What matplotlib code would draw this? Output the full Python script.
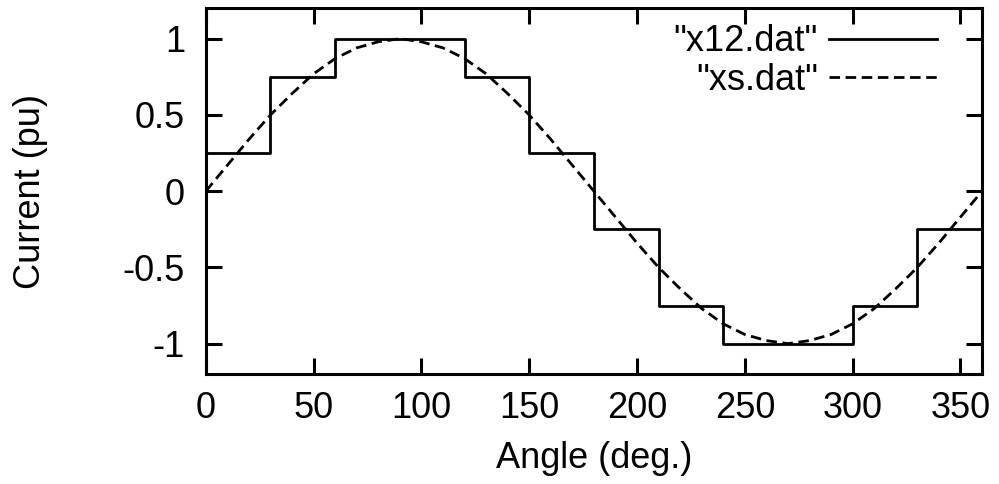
import numpy as np
import matplotlib
matplotlib.use("Agg")
import matplotlib.pyplot as plt

plt.rcParams['font.family'] = ['Liberation Sans', 'DejaVu Sans']

# step waveform "x12.dat"
step_x = [0, 30, 60, 90, 120, 150, 180, 210, 240, 270, 300, 330, 360]
step_y = [0.25, 0.75, 1, 1, 0.75, 0.25, -0.25, -0.75, -1, -1, -0.75, -0.25, -0.25]

sin_x = [0, 10, 20, 30, 40, 50, 60, 70, 80, 90, 100, 110, 120, 130, 140, 150, 160, 170, 180,
         190, 200, 210, 220, 230, 240, 250, 260, 270, 280, 290, 300, 310, 320, 330, 340, 350, 360]
sin_y = [0, 0.17, 0.34, 0.5, 0.64, 0.77, 0.87, 0.94, 0.98, 1, 0.98, 0.94, 0.87, 0.77, 0.64, 0.5, 0.34, 0.17, 0,
         -0.17, -0.34, -0.5, -0.64, -0.77, -0.87, -0.94, -0.98, -1, -0.98, -0.94, -0.87, -0.77, -0.64, -0.5, -0.34, -0.17, 0]

fig = plt.figure(figsize=(9.99, 4.84), dpi=100)
ax = fig.add_axes([0.206, 0.227, 0.777, 0.756])

ax.step(step_x, step_y, where='post', color='black', lw=2.0, label='"x12.dat"')
ax.plot(sin_x, sin_y, color='black', lw=2.0, dashes=(3.8, 2.0), label='"xs.dat"')

ax.set_xlim(0, 360)
ax.set_ylim(-1.2, 1.2)
ax.set_xticks([0, 50, 100, 150, 200, 250, 300, 350])
ax.set_yticks([-1, -0.5, 0, 0.5, 1])
ax.set_yticklabels(['-1', '-0.5', '0', '0.5', '1'])
ax.tick_params(direction='in', length=11.5, width=2.2, top=True, right=True,
               labelsize=26)
ax.tick_params(axis='x', pad=12)
ax.tick_params(axis='y', pad=15)
for s in ax.spines.values():
    s.set_linewidth(2.2)

ax.set_xlabel('Angle (deg.)', fontsize=26, labelpad=11)
ax.set_ylabel('Current (pu)', fontsize=26, labelpad=54)

ax.legend(loc='upper right', frameon=False, markerfirst=False, fontsize=26,
          handlelength=3.0, handletextpad=0.3, labelspacing=0.1,
          borderpad=0, borderaxespad=0, bbox_to_anchor=(0.942, 0.956))

fig.savefig('out.png', dpi=100)
